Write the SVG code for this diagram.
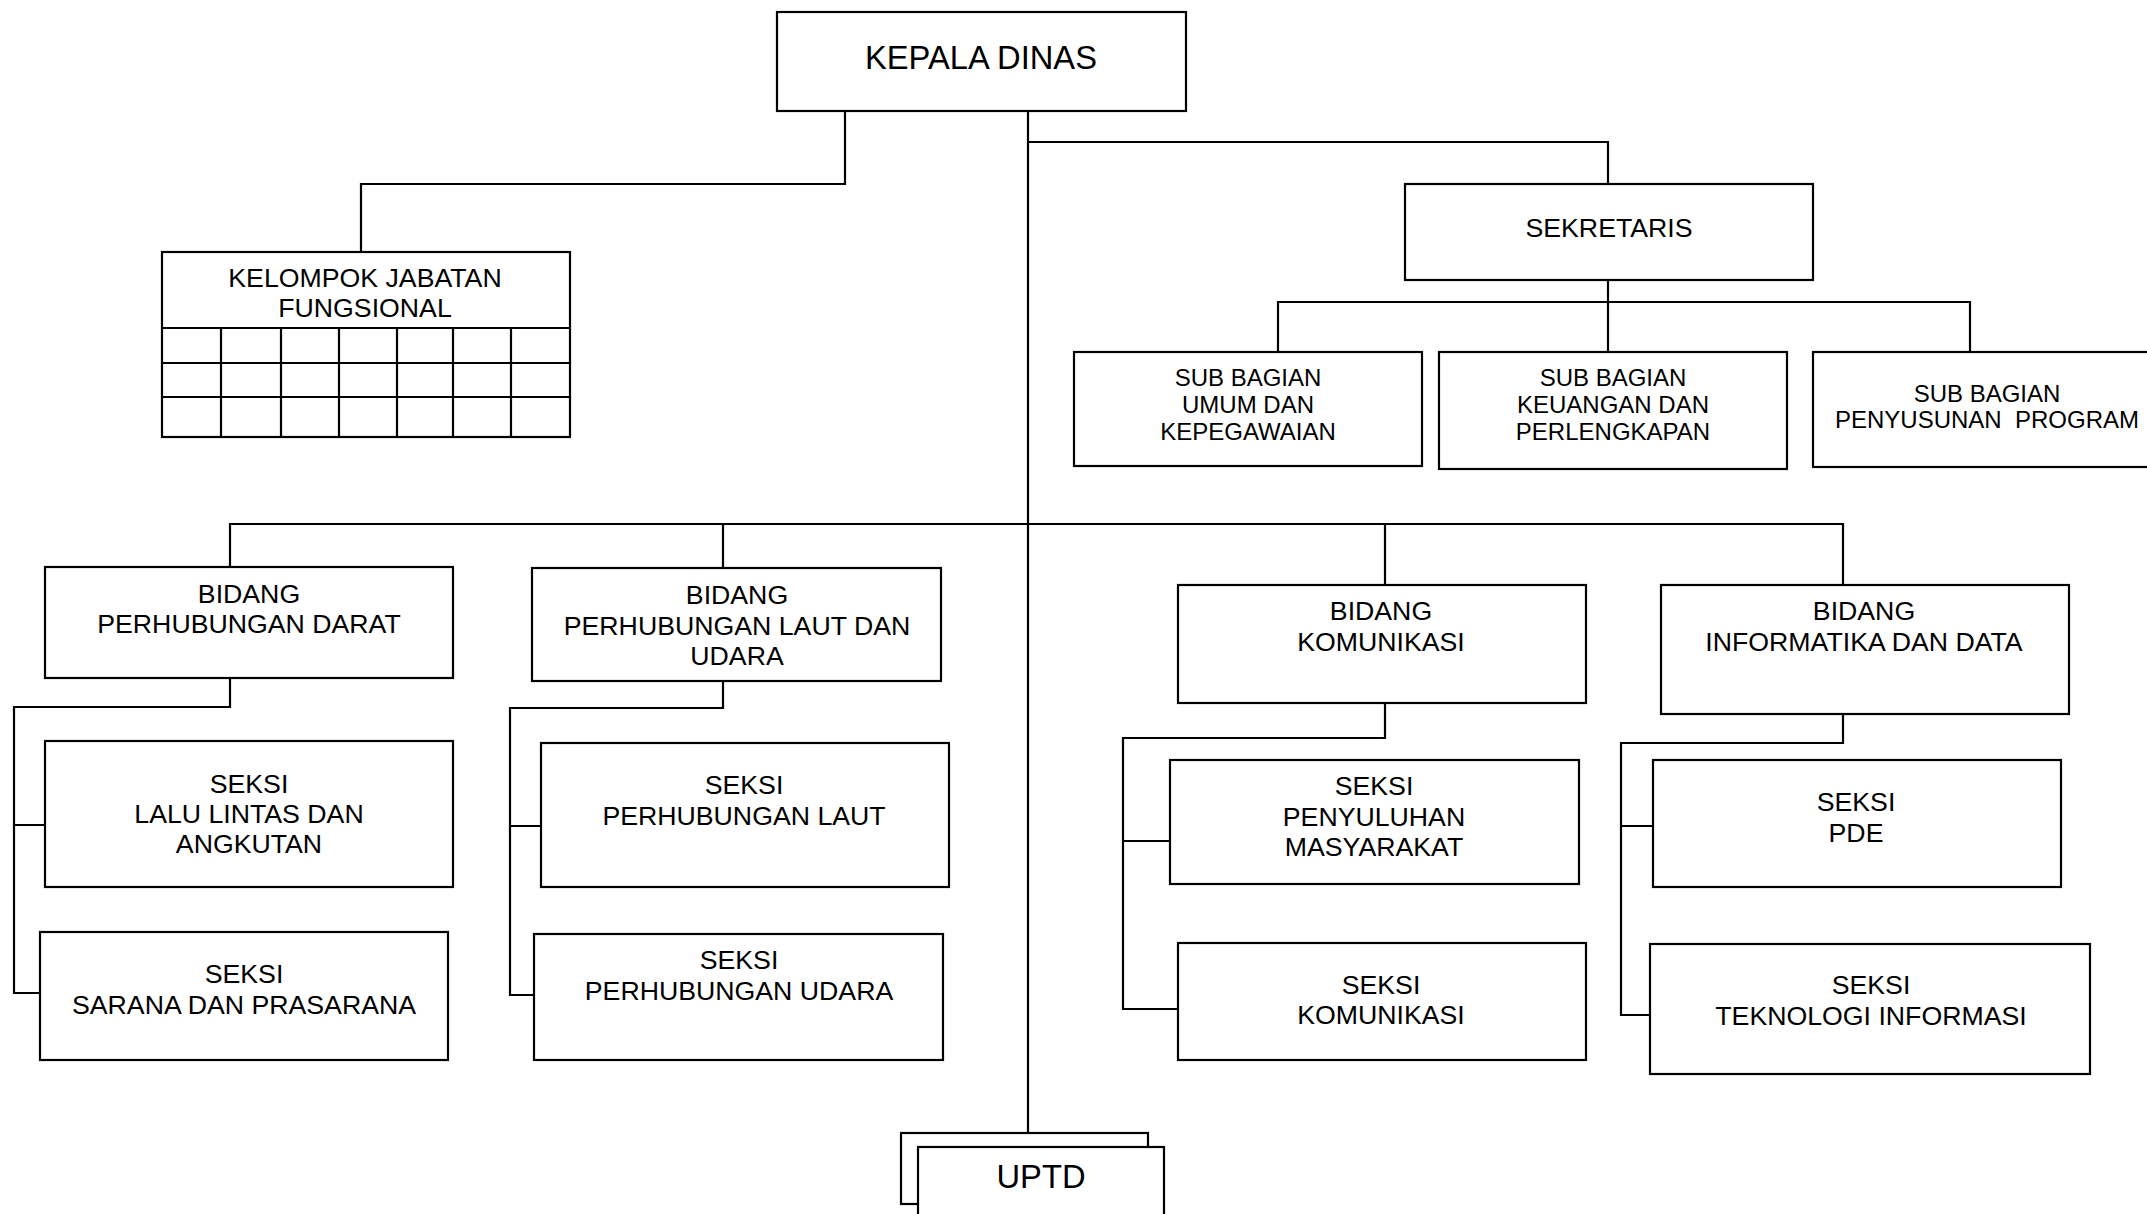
<svg xmlns="http://www.w3.org/2000/svg" width="2147" height="1214" viewBox="0 0 2147 1214">
<style>
.box{fill:#fff;stroke:#000;stroke-width:2.2}
.ln{fill:none;stroke:#000;stroke-width:2.2}
text{font-family:"Liberation Sans",Arial,sans-serif;fill:#000;text-anchor:middle}
.t32{font-size:32.7px}
.t26{font-size:26.7px}
.t23{font-size:24px}
</style>
<rect width="2147" height="1214" fill="#fff"/>
<g id="connectors">
<path class="ln" d="M845 111 V184 H361 V252"/>
<path class="ln" d="M1028 111 V1133"/>
<path class="ln" d="M1028 142 H1608 V184"/>
<path class="ln" d="M1608 280 V352 M1278 352 V302 H1970 V352"/>
<path class="ln" d="M230 567 V524 H1843 V585 M723 524 V568 M1385 524 V585"/>
<path class="ln" d="M230 679 V707 H14 V993 H40 M14 825 H45"/>
<path class="ln" d="M723 681 V708 H510 V995 H534 M510 826 H541"/>
<path class="ln" d="M1385 703 V738 H1123 V1009 H1178 M1123 841 H1170"/>
<path class="ln" d="M1843 714 V743 H1621 V1015 H1650 M1621 826 H1653"/>
</g>
<g id="kepala-dinas">
<rect class="box" x="777" y="12" width="409" height="99"/>
<text class="t32" x="981" y="69">KEPALA DINAS</text>
</g>
<g id="kelompok-jabatan-fungsional">
<rect class="box" x="162" y="252" width="408" height="185"/>
<path class="ln" d="M162 328 H570 M162 363 H570 M162 397 H570 M221 328 V437 M281 328 V437 M339 328 V437 M397 328 V437 M453 328 V437 M511 328 V437"/>
<text class="t26" x="365" y="287">KELOMPOK JABATAN</text>
<text class="t26" x="365" y="317">FUNGSIONAL</text>
</g>
<g id="sekretaris">
<rect class="box" x="1405" y="184" width="408" height="96"/>
<text class="t26" x="1609" y="237">SEKRETARIS</text>
</g>
<g id="sub-bagian-umum">
<rect class="box" x="1074" y="352" width="348" height="114"/>
<text class="t23" x="1248" y="386">SUB BAGIAN</text>
<text class="t23" x="1248" y="413">UMUM DAN</text>
<text class="t23" x="1248" y="440">KEPEGAWAIAN</text>
</g>
<g id="sub-bagian-keuangan">
<rect class="box" x="1439" y="352" width="348" height="117"/>
<text class="t23" x="1613" y="386">SUB BAGIAN</text>
<text class="t23" x="1613" y="413">KEUANGAN DAN</text>
<text class="t23" x="1613" y="440">PERLENGKAPAN</text>
</g>
<g id="sub-bagian-program">
<rect class="box" x="1813" y="352" width="348" height="115"/>
<text class="t23" x="1987" y="402">SUB BAGIAN</text>
<text class="t23" x="1987" y="428" xml:space="preserve">PENYUSUNAN  PROGRAM</text>
</g>
<g id="bidang-darat">
<rect class="box" x="45" y="567" width="408" height="111"/>
<text class="t26" x="249" y="603">BIDANG</text>
<text class="t26" x="249" y="633">PERHUBUNGAN DARAT</text>
</g>
<g id="bidang-laut-udara">
<rect class="box" x="532" y="568" width="409" height="113"/>
<text class="t26" x="737" y="604">BIDANG</text>
<text class="t26" x="737" y="635">PERHUBUNGAN LAUT DAN</text>
<text class="t26" x="737" y="665">UDARA</text>
</g>
<g id="bidang-komunikasi">
<rect class="box" x="1178" y="585" width="408" height="118"/>
<text class="t26" x="1381" y="620">BIDANG</text>
<text class="t26" x="1381" y="651">KOMUNIKASI</text>
</g>
<g id="bidang-informatika">
<rect class="box" x="1661" y="585" width="408" height="129"/>
<text class="t26" x="1864" y="620">BIDANG</text>
<text class="t26" x="1864" y="651">INFORMATIKA DAN DATA</text>
</g>
<g id="seksi-lalu-lintas">
<rect class="box" x="45" y="741" width="408" height="146"/>
<text class="t26" x="249" y="793">SEKSI</text>
<text class="t26" x="249" y="823">LALU LINTAS DAN</text>
<text class="t26" x="249" y="853">ANGKUTAN</text>
</g>
<g id="seksi-sarana">
<rect class="box" x="40" y="932" width="408" height="128"/>
<text class="t26" x="244" y="983">SEKSI</text>
<text class="t26" x="244" y="1014">SARANA DAN PRASARANA</text>
</g>
<g id="seksi-laut">
<rect class="box" x="541" y="743" width="408" height="144"/>
<text class="t26" x="744" y="794">SEKSI</text>
<text class="t26" x="744" y="825">PERHUBUNGAN LAUT</text>
</g>
<g id="seksi-udara">
<rect class="box" x="534" y="934" width="409" height="126"/>
<text class="t26" x="739" y="969">SEKSI</text>
<text class="t26" x="739" y="1000">PERHUBUNGAN UDARA</text>
</g>
<g id="seksi-penyuluhan">
<rect class="box" x="1170" y="760" width="409" height="124"/>
<text class="t26" x="1374" y="795">SEKSI</text>
<text class="t26" x="1374" y="826">PENYULUHAN</text>
<text class="t26" x="1374" y="856">MASYARAKAT</text>
</g>
<g id="seksi-komunikasi">
<rect class="box" x="1178" y="943" width="408" height="117"/>
<text class="t26" x="1381" y="994">SEKSI</text>
<text class="t26" x="1381" y="1024">KOMUNIKASI</text>
</g>
<g id="seksi-pde">
<rect class="box" x="1653" y="760" width="408" height="127"/>
<text class="t26" x="1856" y="811">SEKSI</text>
<text class="t26" x="1856" y="842">PDE</text>
</g>
<g id="seksi-teknologi">
<rect class="box" x="1650" y="944" width="440" height="130"/>
<text class="t26" x="1871" y="994">SEKSI</text>
<text class="t26" x="1871" y="1025">TEKNOLOGI INFORMASI</text>
</g>
<g id="uptd">
<rect class="box" x="901" y="1133" width="247" height="71"/>
<rect class="box" x="918" y="1147" width="246" height="80"/>
<text class="t32" x="1041" y="1188">UPTD</text>
</g>
</svg>
